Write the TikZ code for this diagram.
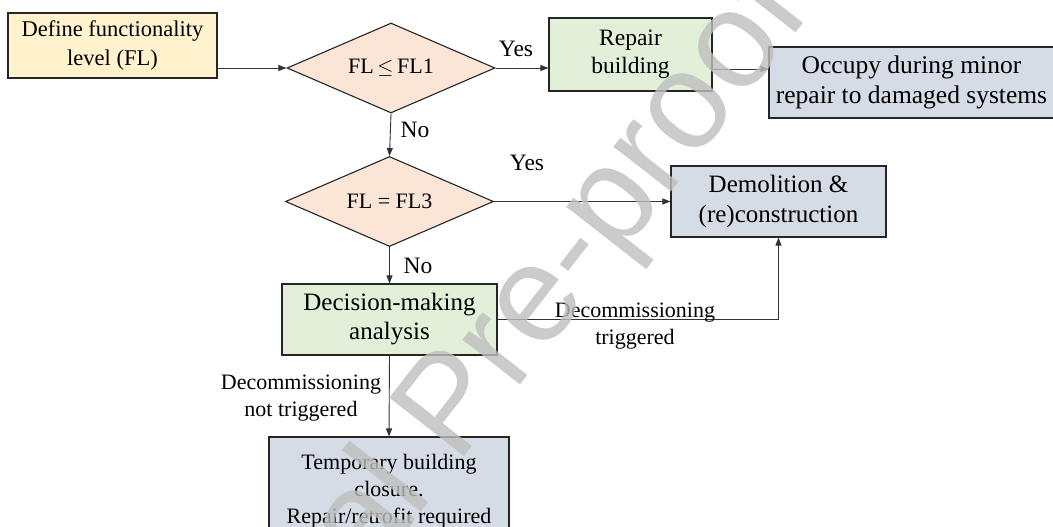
\documentclass[tikz,border=0pt]{standalone}
\usepackage{fontspec}
\setmainfont{Liberation Serif}
\newfontfamily\wmfont{Liberation Sans}
\usetikzlibrary{shapes.geometric,arrows.meta,calc}

\definecolor{fillyel}{HTML}{FFF2CC}
\definecolor{fillpeach}{HTML}{FBE5D6}
\definecolor{fillgreen}{HTML}{E2F0D9}
\definecolor{fillslate}{HTML}{D6DCE5}
\definecolor{wmgray}{gray}{0.75}

\begin{document}
\begin{tikzpicture}[x=1pt,y=-1pt,
  box/.style={draw=black!85, line width=1.1pt, rectangle, inner sep=0pt, align=center},
  test/.style={draw=black!85, line width=1.1pt, diamond, aspect=2.3, inner sep=0pt,
    fill=fillpeach, minimum width=208pt, minimum height=90pt,
    font=\fontsize{22}{26}\selectfont},
  arr/.style={draw=black!80, line width=0.9pt, -{Triangle[length=8pt,width=6pt]}},
  lbl/.style={inner sep=0pt, align=center},
  yesno/.style={lbl, font=\fontsize{23.5}{27}\selectfont},
  edgetext/.style={lbl, font=\fontsize{22}{27}\selectfont},
]
% page frame
\useasboundingbox (0,0) rectangle (1053,527);
\clip (0,0) rectangle (1053,527);
\fill[white] (0,0) rectangle (1053,527);

% boxes
\node[box, fill=fillyel, minimum width=209pt, minimum height=65pt,
      font=\fontsize{22.5}{28.5}\selectfont] (define) at (112.5,45.5)
      {Define functionality\\level (FL)};
\node[test] (fl1) at (391,68) {FL\,$\leq$\,FL1};
\node[box, fill=fillgreen, minimum width=163pt, minimum height=73pt,
      font=\fontsize{23.5}{28.5}\selectfont] (repair) at (630.5,54.5)
      {Repair\\building};
\node[box, fill=fillslate, minimum width=285pt, minimum height=71pt,
      font=\fontsize{25.5}{30.5}\selectfont] (occupy) at (911.5,82.5)
      {Occupy during minor\\repair to damaged systems};
\node[test] (fl3) at (389.5,201.5) {FL = FL3};
\node[box, fill=fillslate, minimum width=215pt, minimum height=71pt,
      font=\fontsize{25}{30}\selectfont] (demol) at (778.5,201.5)
      {Demolition \&\\(re)construction};
\node[box, fill=fillgreen, minimum width=215pt, minimum height=71pt,
      font=\fontsize{25}{29}\selectfont] (dma) at (389.5,319.5)
      {Decision-making\\analysis};
\node[box, fill=fillslate, minimum width=240pt, minimum height=108pt,
      font=\fontsize{22}{27}\selectfont] (closure) at (389,491)
      {Temporary building\\closure.\\Repair/retrofit required};

% connectors
\draw[arr] (define.east |- fl1.west) -- (fl1.west);
\draw[arr] (fl1.east) -- (fl1.east -| repair.west);
\draw[arr] ([yshift=-14.5pt]repair.east) -- ([yshift=-14.5pt]repair.east -| occupy.west);
\draw[arr] (fl1.south) -- (fl3.north);
\draw[arr] (fl3.east) -- (fl3.east -| demol.west);
\draw[arr] (fl3.south) -- (dma.north);
\draw[arr] (dma.east) -- (dma.east -| demol.south) -- (demol.south);
\draw[arr] (dma.south) -- (closure.north);

% connector labels
\node[yesno] (yes1) at (516,49) {Yes};
\node[yesno] (no1) at (415,130) {No};
\node[yesno] (yes2) at (527,163) {Yes};
\node[yesno] (no2) at (418,266) {No};
\node[edgetext] (trig) at (635,326) {Decommissioning\\triggered};
\node[edgetext] (notrig) at (301,398) {Decommissioning\\not triggered};

% watermark
\node[rotate=52, anchor=base west, inner sep=0pt, text=wmgray, text opacity=0.8,
      font=\wmfont\fontsize{138}{138}\selectfont] (wm) at (155.5,852) {Journal Pre-proof};
\end{tikzpicture}
\end{document}
